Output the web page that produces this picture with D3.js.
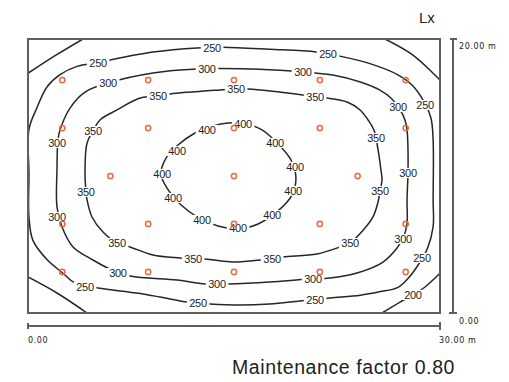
<!DOCTYPE html>
<html>
<head>
<meta charset="utf-8">
<script src="https://cdn.jsdelivr.net/npm/d3@7/dist/d3.min.js"></script>
<style>
  body { margin: 0; background: #fff; }
  svg { display: block; }
</style>
</head>
<body>
<div class="isolux"></div>
<script>
// room size in metres
var roomWidth = 30;
var roomDepth = 20;
var maintenanceFactor = '0.80';
var unitLabel = 'Lx';

// luminaire positions (m)
var lumCols = [2.5, 8.75, 15, 21.25, 27.5];
var lumColsMid = [6, 15, 24];
var lumRows = [3, 6.5, 10, 13.5, 17];

// isolux lines (m)
var iso200 = [
  [[0, 17.5], [2.0, 18.8], [4.0, 20]],
  [[0, 2.63], [2.11, 1.46], [4.3, 0]],
  [[26.0, 20], [28.03, 18.83], [30, 17.0]],
  [[25.78, 0], [27.09, 0.8], [28.03, 1.31], [28.91, 1.9], [30, 2.9]]
];
var iso250 = [[0.07, 10.1], [0.07, 13.4], [0.66, 15.0], [1.38, 16.5], [2.33, 17.4], [3.57, 18.0], [5.1, 18.3],
  [9.1, 19.05], [12.3, 19.35], [14.2, 19.4], [17.6, 19.25], [21.0, 19.05], [22.7, 18.75], [24.9, 18.2],
  [26.9, 17.4], [28.0, 16.6], [28.9, 15.3], [29.35, 14.2], [29.5, 12.6], [29.5, 8.2], [29.5, 6.3],
  [29.1, 4.75], [28.5, 3.65], [27.7, 2.55], [26.9, 1.85], [25.6, 1.55], [24.2, 1.3], [22.0, 1.1],
  [19.8, 0.88], [17.6, 0.66], [15.4, 0.58], [13.25, 0.66], [11.6, 0.8], [9.6, 1.17], [7.9, 1.46],
  [5.1, 1.82], [3.4, 2.2], [2.55, 2.9], [1.38, 3.9], [0.36, 5.3], [0.07, 7.0]];
var iso300 = [[2.11, 7.74], [2.11, 10.44], [2.18, 12.63], [2.33, 13.36], [3.06, 14.96], [4.15, 16.13],
  [5.83, 16.79], [9.1, 17.52], [12.3, 17.81], [16.2, 17.81], [19.2, 17.66], [20.9, 17.52], [22.2, 17.37],
  [24.2, 16.86], [25.6, 16.28], [26.5, 15.62], [27.1, 14.82], [27.45, 14.09], [27.6, 13.36], [27.67, 11.9],
  [27.67, 10.2], [27.6, 8.25], [27.6, 6.57], [27.38, 5.62], [26.87, 4.74], [25.85, 3.72], [23.96, 2.92],
  [22.0, 2.55], [20.4, 2.48], [17.6, 2.26], [14.56, 2.12], [12.9, 2.12], [10.85, 2.41], [7.43, 2.7],
  [5.97, 3.21], [4.73, 3.87], [3.28, 4.82], [2.48, 6.28]];
var iso350 = [[4.22, 8.83], [4.15, 10.44], [4.3, 12.41], [4.73, 13.28], [5.24, 14.09], [6.48, 14.82],
  [8.16, 15.69], [9.47, 15.84], [10.34, 15.99], [13.98, 16.28], [15.15, 16.35], [16.02, 16.35],
  [20.02, 15.91], [20.9, 15.77], [21.77, 15.69], [23.23, 15.4], [24.18, 14.82], [24.76, 14.09],
  [25.19, 13.36], [25.49, 11.9], [25.7, 10.44], [25.78, 9.71], [25.63, 8.91], [25.49, 8.1], [25.12, 7.01],
  [24.54, 6.2], [23.45, 5.11], [22.72, 4.82], [21.04, 4.31], [18.57, 4.09], [17.77, 3.94], [16.89, 3.87],
  [14.93, 3.72], [12.89, 3.94], [12.02, 3.94], [11.07, 4.01], [9.1, 4.23], [7.43, 4.82], [6.48, 5.11],
  [5.46, 5.91], [4.66, 7.01], [4.3, 8.25]];
var iso400 = [[15.66, 13.87], [17.04, 13.36], [18.2, 12.34], [19.15, 11.17], [19.51, 9.85], [19.22, 8.61],
  [18.2, 7.45], [16.75, 6.5], [15.29, 6.13], [13.84, 6.35], [12.45, 6.93], [11.07, 7.96], [10.12, 9.12],
  [9.68, 10.15], [10.05, 11.31], [10.92, 12.26], [12.16, 13.14], [13.47, 13.65], [14.56, 13.87]];

// label positions on the lines (m)
var label200 = [[28.03, 1.31]];
var label250 = [[13.4, 19.34], [21.84, 18.91], [5.1, 18.25], [28.91, 15.18], [28.69, 4.01], [20.9, 0.95],
  [12.38, 0.73], [4.15, 1.9]];
var label300 = [[13.03, 17.81], [20.02, 17.59], [5.83, 16.79], [2.11, 12.41], [26.94, 15.04], [27.67, 10.22],
  [2.11, 7.01], [27.31, 5.4], [20.75, 2.48], [13.76, 2.12], [6.55, 2.92]];
var label350 = [[9.47, 15.84], [15.15, 16.35], [20.9, 15.77], [4.73, 13.28], [25.34, 12.77], [25.63, 8.91],
  [4.22, 8.83], [6.48, 5.11], [23.45, 5.11], [12.02, 3.94], [17.77, 3.94]];
var label400 = [[13.03, 13.36], [15.66, 13.8], [17.99, 12.41], [19.44, 10.66], [19.3, 8.91], [17.77, 7.15],
  [15.29, 6.2], [12.67, 6.79], [10.56, 8.39], [9.76, 10.15], [10.85, 11.82]];

(function () {
  var svg = d3.select('.isolux').append('svg')
    .attr('width', 509)
    .attr('height', 382);

  var x = d3.scaleLinear().domain([0, roomWidth]).range([28, 440]);
  var y = d3.scaleLinear().domain([0, roomDepth]).range([313, 39]);

  svg.append('defs').append('clipPath')
      .attr('id', 'room')
    .append('rect')
      .attr('x', x(0))
      .attr('y', y(roomDepth))
      .attr('width', x(roomWidth) - x(0))
      .attr('height', y(0) - y(roomDepth));

  var closedLine = d3.line()
    .x(function (d) { return x(d[0]); })
    .y(function (d) { return y(d[1]); })
    .curve(d3.curveCatmullRomClosed.alpha(0.5));
  var openLine = d3.line()
    .x(function (d) { return x(d[0]); })
    .y(function (d) { return y(d[1]); })
    .curve(d3.curveCatmullRom.alpha(0.5));

  // isolines
  var lines = svg.append('g')
    .attr('clip-path', 'url(#room)')
    .attr('fill', 'none')
    .attr('stroke', '#262626')
    .attr('stroke-width', 1.5);

  lines.selectAll('.iso-closed')
    .data([iso250, iso300, iso350, iso400])
    .enter().append('path')
      .attr('class', 'iso-closed')
      .attr('d', closedLine);
  lines.selectAll('.iso-open')
    .data(iso200)
    .enter().append('path')
      .attr('class', 'iso-open')
      .attr('d', openLine);

  // labels
  var labelSets = [
    {level: 200, pts: label200},
    {level: 250, pts: label250},
    {level: 300, pts: label300},
    {level: 350, pts: label350},
    {level: 400, pts: label400}
  ];
  labelSets.forEach(function (set) {
    var lab = svg.append('g').selectAll('g')
      .data(set.pts)
      .enter().append('g')
        .attr('transform', function (d) { return 'translate(' + x(d[0]) + ',' + y(d[1]) + ')'; });
    lab.append('rect').attr('fill', '#fff');
    lab.append('text')
      .attr('text-anchor', 'middle')
      .attr('dy', '0.36em')
      .attr('font-family', 'Liberation Sans, Arial, sans-serif')
      .attr('font-size', '11px')
      .attr('letter-spacing', '-0.3px')
      .attr('fill', '#222')
      .text(set.level);
    lab.each(function () {
      var b = d3.select(this).select('text').node().getBBox();
      d3.select(this).select('rect')
        .attr('x', b.x - 2.5)
        .attr('y', b.y + 1)
        .attr('width', b.width + 5)
        .attr('height', b.height - 2);
    });
  });

  // luminaires
  var lums = [];
  lumRows.forEach(function (r) {
    (r === 10 ? lumColsMid : lumCols).forEach(function (c) { lums.push([c, r]); });
  });
  svg.append('g').selectAll('circle')
    .data(lums)
    .enter().append('circle')
      .attr('cx', function (d) { return x(d[0]); })
      .attr('cy', function (d) { return y(d[1]); })
      .attr('r', 2.6)
      .attr('fill', 'none')
      .attr('stroke', '#e8683f')
      .attr('stroke-width', 1.5);

  // room outline
  svg.append('rect')
    .attr('x', x(0))
    .attr('y', y(roomDepth))
    .attr('width', x(roomWidth) - x(0))
    .attr('height', y(0) - y(roomDepth))
    .attr('fill', 'none')
    .attr('stroke', '#5e5e5e')
    .attr('stroke-width', 2);

  // dimension bars
  var bars = svg.append('g')
    .attr('stroke', '#5e5e5e')
    .attr('stroke-width', 2);
  var bx = 453, by = 326;
  bars.append('line').attr('x1', bx).attr('x2', bx).attr('y1', y(roomDepth)).attr('y2', y(0));
  bars.append('line').attr('x1', bx - 3).attr('x2', bx + 4).attr('y1', y(roomDepth)).attr('y2', y(roomDepth));
  bars.append('line').attr('x1', bx - 4).attr('x2', bx + 4).attr('y1', y(0)).attr('y2', y(0));
  bars.append('line').attr('x1', x(0)).attr('x2', x(roomWidth)).attr('y1', by).attr('y2', by);
  bars.append('line').attr('x1', x(0)).attr('x2', x(0)).attr('y1', by - 3).attr('y2', by + 3);
  bars.append('line').attr('x1', x(roomWidth)).attr('x2', x(roomWidth)).attr('y1', by - 4).attr('y2', by + 4);

  var dim = svg.append('g')
    .attr('font-family', 'DejaVu Sans, sans-serif')
    .attr('font-size', '8px')
    .attr('letter-spacing', '0.6px')
    .attr('fill', '#222');
  dim.append('text').attr('x', 459).attr('y', y(roomDepth) + 10).text(d3.format('.2f')(roomDepth) + ' m');
  dim.append('text').attr('x', 459).attr('y', y(0) + 11).text(d3.format('.2f')(0));
  dim.append('text').attr('x', x(0)).attr('y', 343).text(d3.format('.2f')(0));
  dim.append('text').attr('x', x(roomWidth) - 1).attr('y', 343).text(d3.format('.2f')(roomWidth) + ' m');

  // titles
  svg.append('text')
    .attr('x', 419)
    .attr('y', 23)
    .attr('font-family', 'Liberation Sans, Arial, sans-serif')
    .attr('font-size', '15px')
    .attr('fill', '#222')
    .text(unitLabel);
  svg.append('text')
    .attr('x', 232)
    .attr('y', 374)
    .attr('font-family', 'Liberation Sans, Arial, sans-serif')
    .attr('font-size', '19.5px')
    .attr('letter-spacing', '0.6px')
    .attr('fill', '#222')
    .text('Maintenance factor ' + maintenanceFactor);
})();
</script>
</body>
</html>
